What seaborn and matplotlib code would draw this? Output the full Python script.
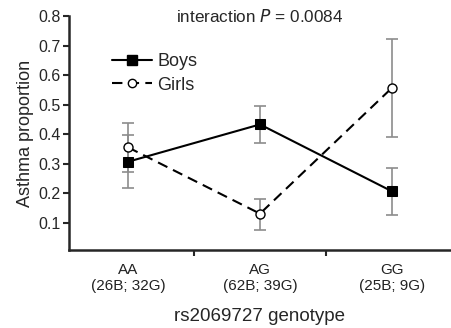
import matplotlib
matplotlib.use("Agg")
import matplotlib.pyplot as plt
import seaborn as sns
import pandas as pd
import numpy as np

genotypes = ["AA", "AG", "GG"]
tick_labels = ["AA\n(26B; 32G)", "AG\n(62B; 39G)", "GG\n(25B; 9G)"]
boys = [0.307, 0.433, 0.207]
boys_lo = [0.218, 0.369, 0.128]
boys_hi = [0.398, 0.496, 0.286]
girls = [0.355, 0.131, 0.556]
girls_lo = [0.271, 0.075, 0.390]
girls_hi = [0.438, 0.180, 0.721]

sns.set_style("ticks")
plt.rcParams['font.family'] = ['Liberation Sans', 'DejaVu Sans']

x = np.arange(len(genotypes))
df = pd.DataFrame({
    "pos": np.concatenate([x, x]),
    "val": boys + girls,
    "sex": ["Boys"] * 3 + ["Girls"] * 3,
})

fig = plt.figure(figsize=(4.51, 3.28), dpi=100)
ax = fig.add_axes([69 / 451, 1 - 250 / 328, (451 - 69) / 451, (250 - 16) / 328])

# error bars
for vals, lo, hi in [(boys, boys_lo, boys_hi), (girls, girls_lo, girls_hi)]:
    v = np.array(vals)
    ax.errorbar(x, v, yerr=[v - np.array(lo), np.array(hi) - v], fmt="none",
                ecolor="#8c8c8c", elinewidth=1.2, capsize=4, capthick=1.2, zorder=1)

sns.lineplot(data=df, x="pos", y="val", hue="sex", style="sex",
             palette={"Boys": "black", "Girls": "black"},
             dashes={"Boys": (None, None), "Girls": (5, 3)},
             markers={"Boys": "s", "Girls": "o"}, ax=ax, zorder=3,
             linewidth=1.5, markersize=7.5, legend=False)
lines = ax.get_lines()
for ln in lines:
    if ln.get_marker() == "o":
        ln.set_markerfacecolor("white")
        ln.set_markeredgecolor("black")
        ln.set_markersize(6.5)
        ln.set_markeredgewidth(1.0)
    elif ln.get_marker() == "s":
        ln.set_markerfacecolor("black")
        ln.set_markeredgecolor("black")

from matplotlib.lines import Line2D
handles = [Line2D([], [], color="black", lw=1.5, marker="s", markersize=7, label="Boys"),
           Line2D([], [], color="black", lw=1.5, ls=(0, (5, 3)), marker="o", markersize=6,
                  markerfacecolor="white", markeredgecolor="black", label="Girls")]
ax.legend(handles=handles, loc="upper left", bbox_to_anchor=(0.07, 0.91), frameon=False,
          fontsize=13, handlelength=2.2, handletextpad=0.3, labelspacing=0.35)

ax.set_xlim(-0.45, 2.45)
ax.set_ylim(0.008, 0.8)
ax.set_yticks([0.1, 0.2, 0.3, 0.4, 0.5, 0.6, 0.7, 0.8])
ax.set_yticklabels(["0.1", "0.2", "0.3", "0.4", "0.5", "0.6", "0.7", "0.8"])
ax.set_xticks([0.5, 1.5])
ax.set_xticklabels(["", ""])
ax.set_xticks(x, minor=True)
ax.set_xticklabels(tick_labels, minor=True)
ax.tick_params(axis="x", which="minor", length=0, pad=9, labelsize=11, labelcolor="#222222")
ax.tick_params(axis="x", which="major", length=4, width=1.5, direction="out")
ax.tick_params(axis="y", length=4, width=1.5, labelsize=11.5, pad=2)
for s in ["left", "bottom"]:
    ax.spines[s].set_linewidth(1.8)
sns.despine(ax=ax)

ax.set_xlabel("rs2069727 genotype", fontsize=13.5, labelpad=11)
ax.set_ylabel("Asthma proportion", fontsize=13, labelpad=3)
ax.text(0.5, 1.0, r"interaction $\it{P}$ = 0.0084", transform=ax.transAxes,
        ha="center", va="center", fontsize=12.3)

fig.savefig("out.png", dpi=100)
